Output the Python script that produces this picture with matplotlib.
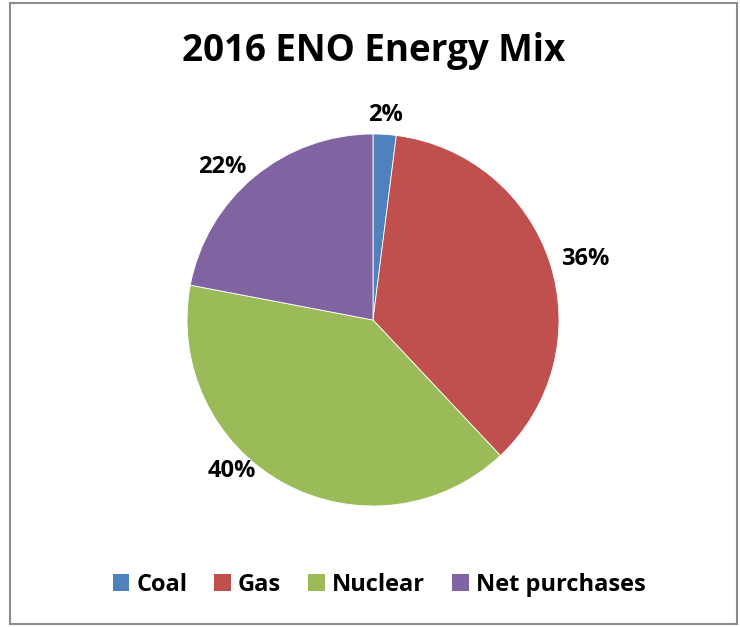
import matplotlib
matplotlib.use("Agg")
import matplotlib.pyplot as plt
from matplotlib.patches import Rectangle, Patch

# data
sources = ["Coal", "Gas", "Nuclear", "Net purchases"]
shares = [2, 36, 40, 22]
colors = ["#4F81BD", "#C0504D", "#9BBB59", "#8064A2"]
# where the percent labels sit (pie radius = 1)
label_xy = [(0.065, 1.10), (1.14, 0.33), (-0.76, -0.81), (-0.81, 0.82)]

plt.rcParams['font.family'] = ['Open Sans', 'DejaVu Sans']

W, H = 740, 627
fig = plt.figure(figsize=(W / 100, H / 100), dpi=100)

# outer chart border
fig.patches.append(Rectangle((10 / W, 1 - 624 / H), 727 / W, 621 / H,
                             transform=fig.transFigure, fill=False,
                             edgecolor="#8c8c8c", linewidth=1.5))

cx, cy, r = 373, 320, 186
ax = fig.add_axes([(cx - r) / W, 1 - (cy + r) / H, 2 * r / W, 2 * r / H])
wedges, texts, autotexts = ax.pie(
    shares, colors=colors, startangle=90, counterclock=False,
    autopct="%1.0f%%", pctdistance=1.14,
    wedgeprops=dict(edgecolor="white", linewidth=0.6),
    textprops=dict(fontsize=17, fontweight="bold", color="black"))
for t, xy in zip(autotexts, label_xy):
    t.set_position(xy)
    t.set_ha("center")
    t.set_va("center")
ax.set_xlim(-1, 1)
ax.set_ylim(-1, 1)
ax.set_aspect("equal")

fig.text(374 / W, 1 - 51 / H, "2016 ENO Energy Mix", ha="center", va="center",
         fontsize=26.5, fontweight="bold")

handles = [Patch(facecolor=c, edgecolor="none") for c in colors]
fig.legend(handles, sources, loc="center", bbox_to_anchor=(379 / W, 1 - 585 / H),
           ncol=4, frameon=False, prop=dict(size=17, weight="bold"),
           handlelength=0.7, handleheight=0.7, handletextpad=0.3,
           columnspacing=1.15)

fig.savefig("out.png", dpi=100)
